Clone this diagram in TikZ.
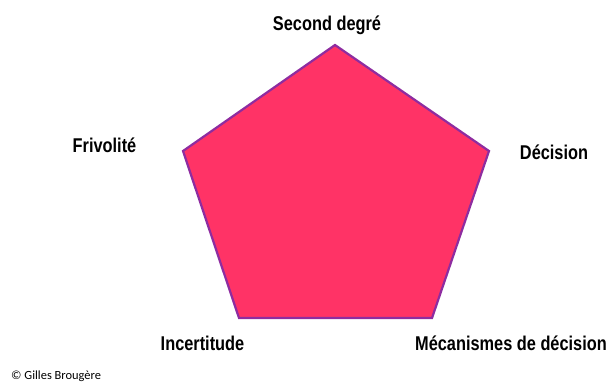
\documentclass[tikz,border=0pt]{standalone}
\usepackage{fontspec}
\newfontfamily\labfont[FakeStretch=0.82]{Liberation Sans}
\newfontfamily\copyfont{Carlito}
\definecolor{pentfill}{HTML}{FF3366}
\definecolor{pentline}{HTML}{8E2CA0}
\begin{document}
\begin{tikzpicture}[x=1bp,y=-1bp,
  lab/.style={font=\labfont\bfseries\fontsize{20}{24}\selectfont, inner sep=0pt, anchor=base},
  cpy/.style={font=\copyfont\fontsize{12.5}{15}\selectfont, inner sep=0pt, anchor=base west}]
\useasboundingbox (0,0) rectangle (608,383);
\coordinate (top) at (335,45);
\coordinate (right) at (489,151);
\coordinate (br) at (432,318);
\coordinate (bl) at (239,318);
\coordinate (left) at (183,151);
\draw[fill=pentfill, draw=pentline, line width=2.2bp, line join=miter]
  (top) -- (right) -- (br) -- (bl) -- (left) -- cycle;
\node[lab] (sd) at (327,30.5) {Second degré};
\node[lab] (fr) at (104.5,152) {Frivolité};
\node[lab] (de) at (554,159) {Décision};
\node[lab] (in) at (202.5,350) {Incertitude};
\node[lab] (me) at (511,350) {Mécanismes de décision};
\node[cpy] (cp) at (11,379) {© Gilles Brougère};
\end{tikzpicture}
\end{document}
